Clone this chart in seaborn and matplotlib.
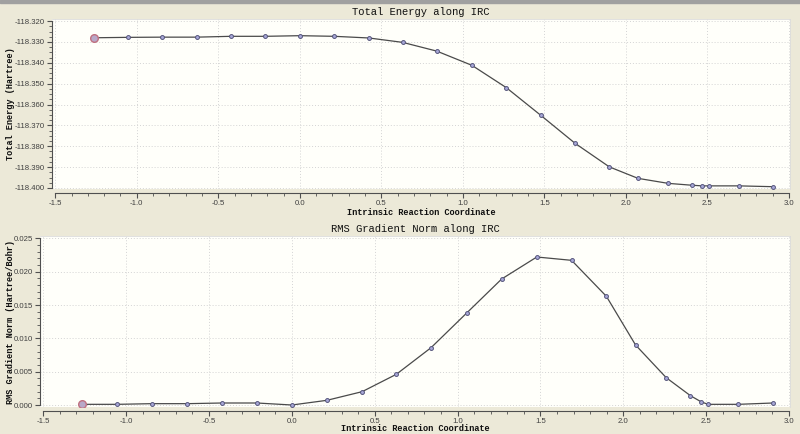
import numpy as np
import pandas as pd
import matplotlib
matplotlib.use("Agg")
import matplotlib.pyplot as plt
from matplotlib.ticker import MultipleLocator, FormatStrFormatter
import seaborn as sns

# ---- data ----
irc_x = [-1.265, -1.055, -0.844, -0.632, -0.422, -0.211, 0.0, 0.211, 0.424, 0.630,
         0.840, 1.055, 1.266, 1.478, 1.688, 1.898, 2.074, 2.259, 2.405, 2.468,
         2.511, 2.693, 2.904]
total_energy = [-118.3280, -118.3278, -118.3277, -118.3277, -118.3273, -118.3273,
                -118.3270, -118.3273, -118.3281, -118.3302, -118.3344, -118.3412,
                -118.3519, -118.3652, -118.3786, -118.3899, -118.3954, -118.3978,
                -118.3987, -118.3990, -118.3990, -118.3990, -118.3994]
rms_grad = [0.0001, 0.0001, 0.0002, 0.0002, 0.0003, 0.0003, 0.0000, 0.0007,
            0.0020, 0.0046, 0.0086, 0.0138, 0.0189, 0.0222, 0.0217, 0.0163,
            0.0090, 0.0041, 0.0014, 0.0005, 0.0001, 0.0001, 0.0003]

title_top = "Total Energy along IRC"
title_bot = "RMS Gradient Norm along IRC"
xlabel = "Intrinsic Reaction Coordinate"
ylabel_top = "Total Energy (Hartree)"
ylabel_bot = "RMS Gradient Norm (Hartree/Bohr)"

df = pd.DataFrame({"x": irc_x, "E": total_energy, "G": rms_grad})

sns.set_style("white")
plt.rcParams["font.family"] = ["Liberation Mono", "DejaVu Sans Mono"]
plt.rcParams["axes.unicode_minus"] = False

BG = "#ECE9D8"
PLOT_BG = "#FFFFFA"
LINE = "#4a4a4a"
TXT = "#101010"
TICKFONT = "Liberation Sans"

fig = plt.figure(figsize=(8.0, 4.34), dpi=100, facecolor=BG)
fig.patches.append(plt.Rectangle((0, 1 - 3 / 434), 1, 3 / 434, transform=fig.transFigure,
                                 color="#a0a0a0", zorder=0))

ax1 = fig.add_axes([52 / 800, 1 - 189 / 434, (790 - 52) / 800, 170 / 434])
ax2 = fig.add_axes([40 / 800, 1 - 407 / 434, (790 - 40) / 800, 171 / 434])


def style(ax, ycol, ylim, ymaj, ymin, yfmt, title, ylabel, ybounds, left_px, w_px, h_px,
          xlab_top_px, ylab_right_px):
    ax.set_facecolor(PLOT_BG)
    sns.lineplot(data=df, x="x", y=ycol, ax=ax, color=LINE, lw=0.9,
                 marker="o", markersize=2.8, markerfacecolor="#a8a8d8",
                 markeredgecolor="#55557a", markeredgewidth=0.7)
    ax.plot(df["x"].iloc[0], df[ycol].iloc[0], "o", ms=5.5, mfc="#b8a8c8",
            mec="#c07080", mew=1.0, zorder=5)
    ax.set_xlim(-1.52, 3.006)
    ax.set_ylim(*ylim)
    ax.xaxis.set_major_locator(MultipleLocator(0.5))
    ax.xaxis.set_minor_locator(MultipleLocator(0.1))
    ax.xaxis.set_major_formatter(FormatStrFormatter("%.1f"))
    ax.yaxis.set_major_locator(MultipleLocator(ymaj))
    ax.yaxis.set_minor_locator(MultipleLocator(ymin))
    ax.yaxis.set_major_formatter(FormatStrFormatter(yfmt))
    ax.grid(True, which="major", color="#d4d4d4", linestyle=(0, (1, 2)), lw=0.7)
    for s in ["top", "right"]:
        ax.spines[s].set_color("#dcdcdc")
        ax.spines[s].set_linewidth(0.6)
    ax.spines["left"].set_color("#505050")
    ax.spines["bottom"].set_color("#505050")
    ax.spines["bottom"].set_position(("outward", 3))
    ax.spines["bottom"].set_bounds(-1.5, 3.0)
    ax.spines["left"].set_bounds(*ybounds)
    ax.tick_params(which="major", direction="out", length=3.5, width=0.8, color="#505050",
                   labelsize=5.6, labelcolor="#404040", pad=1.5, left=True, bottom=True)
    ax.tick_params(which="minor", direction="out", length=2, width=0.6, color="#505050",
                   left=True, bottom=True)
    for lab in ax.get_xticklabels() + ax.get_yticklabels():
        lab.set_fontfamily(TICKFONT)
    ax.set_title(title, fontsize=7.6, color=TXT, pad=3)
    ax.set_xlabel(xlabel, fontsize=6.2, fontweight="bold", color=TXT, va="top")
    ax.set_ylabel(ylabel, fontsize=6.2, fontweight="bold", color=TXT)
    ax.xaxis.set_label_coords(0.5, -xlab_top_px / h_px)
    ax.yaxis.set_label_coords(-(left_px - ylab_right_px) / w_px, 0.5)


style(ax1, "E", (-118.4005, -118.319), 0.01, 0.0025, "%.3f", title_top, ylabel_top,
      (-118.40, -118.32), 52, 738, 170, 19, 15)
style(ax2, "G", (-0.0003, 0.02535), 0.005, 0.001, "%.3f", title_bot, ylabel_bot,
      (0.0, 0.025), 40, 750, 171, 17, 15)

fig.savefig("out.png", dpi=100, facecolor=BG)
